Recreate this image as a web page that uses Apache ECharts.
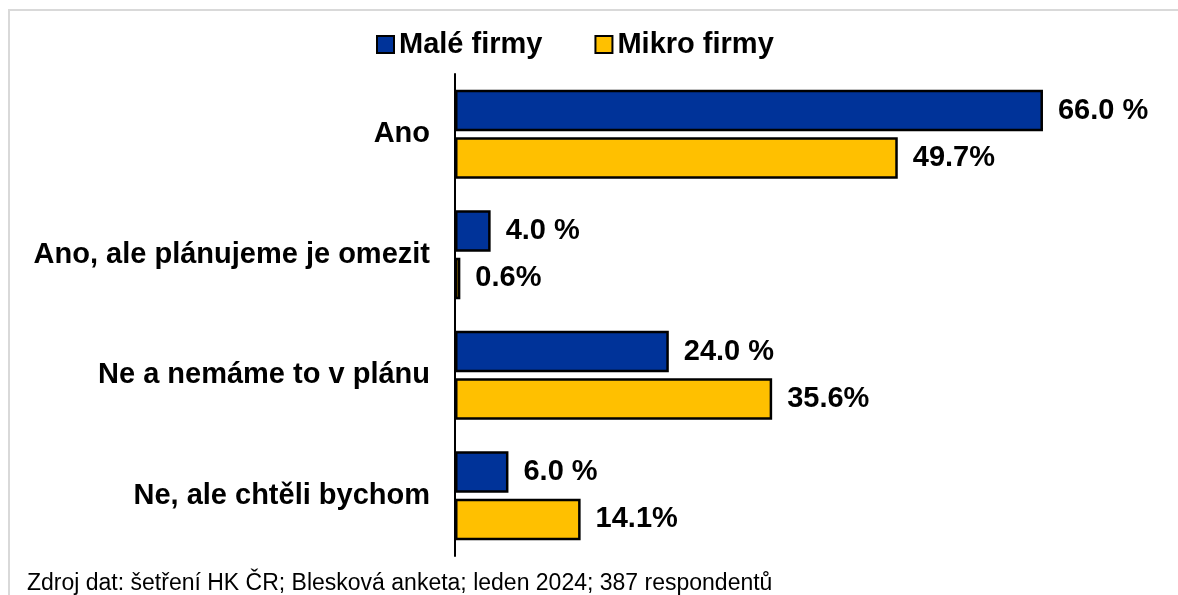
<!DOCTYPE html>
<html>
<head>
<meta charset="utf-8">
<script src="https://cdn.jsdelivr.net/npm/echarts@6/dist/echarts.min.js"></script>
<style>html,body{margin:0;padding:0;background:#fff}#c{width:1178px;height:595px}</style>
</head>
<body>
<div id="c"></div>
<script>
const categories = ['Ano', 'Ano, ale plánujeme je omezit', 'Ne a nemáme to v plánu', 'Ne, ale chtěli bychom'];
const seriesNames = ['Malé firmy', 'Mikro firmy'];
const maleFirmy = [66.0, 4.0, 24.0, 6.0];
const mikroFirmy = [49.7, 0.6, 35.6, 14.1];
const sourceNote = 'Zdroj dat: šetření HK ČR; Blesková anketa; leden 2024; 387 respondentů';

const FONT = '"Liberation Sans", Arial, sans-serif';
const chart = echarts.init(document.getElementById('c'), null, {renderer: 'canvas'});
chart.setOption({
  animation: false,
  backgroundColor: '#fff',
  textStyle: {fontFamily: FONT},
  legend: {
    left: 371, top: 25,
    itemWidth: 17, itemHeight: 17, itemGap: 52,
    textStyle: {fontSize: 29, fontWeight: 'bold', color: '#000', fontFamily: FONT, padding: [0, 0, 0, 0]},
    data: seriesNames.map(n => ({name: n, icon: 'rect', itemStyle: {borderColor: '#000', borderWidth: 2}}))
  },
  grid: {left: 455, top: 74, height: 482, right: 10.3, containLabel: false},
  xAxis: {type: 'value', min: 0, max: 80, show: false, splitLine: {show: false}},
  yAxis: {
    type: 'category', inverse: true, data: categories,
    axisLine: {show: true, lineStyle: {color: '#000', width: 2}},
    axisTick: {show: false},
    axisLabel: {fontSize: 29, fontWeight: 'bold', color: '#000', margin: 25, fontFamily: FONT}
  },
  series: [
    {
      name: seriesNames[0], type: 'bar', data: maleFirmy, barWidth: 41.5, barGap: '14%',
      itemStyle: {color: '#003399', borderColor: '#000', borderWidth: 2.5},
      label: {show: true, position: 'right', distance: 15, fontSize: 29, fontWeight: 'bold', color: '#000', fontFamily: FONT,
        formatter: p => p.value.toFixed(1) + ' %'}
    },
    {
      name: seriesNames[1], type: 'bar', data: mikroFirmy, barWidth: 41.5, barGap: '14%',
      itemStyle: {color: '#FFC000', borderColor: '#000', borderWidth: 2.5},
      label: {show: true, position: 'right', distance: 15, fontSize: 29, fontWeight: 'bold', color: '#000', fontFamily: FONT,
        formatter: p => p.value.toFixed(1) + '%'}
    }
  ],
  graphic: [
    {type: 'line', shape: {x1: 8, y1: 10, x2: 1178, y2: 10}, style: {stroke: '#d9d9d9', lineWidth: 2}, silent: true},
    {type: 'line', shape: {x1: 9, y1: 9, x2: 9, y2: 595}, style: {stroke: '#d9d9d9', lineWidth: 2}, silent: true},
    {type: 'text', left: 27, top: 572, style: {text: sourceNote, font: '23px ' + FONT, fill: '#000'}, silent: true}
  ]
});
</script>
</body>
</html>
